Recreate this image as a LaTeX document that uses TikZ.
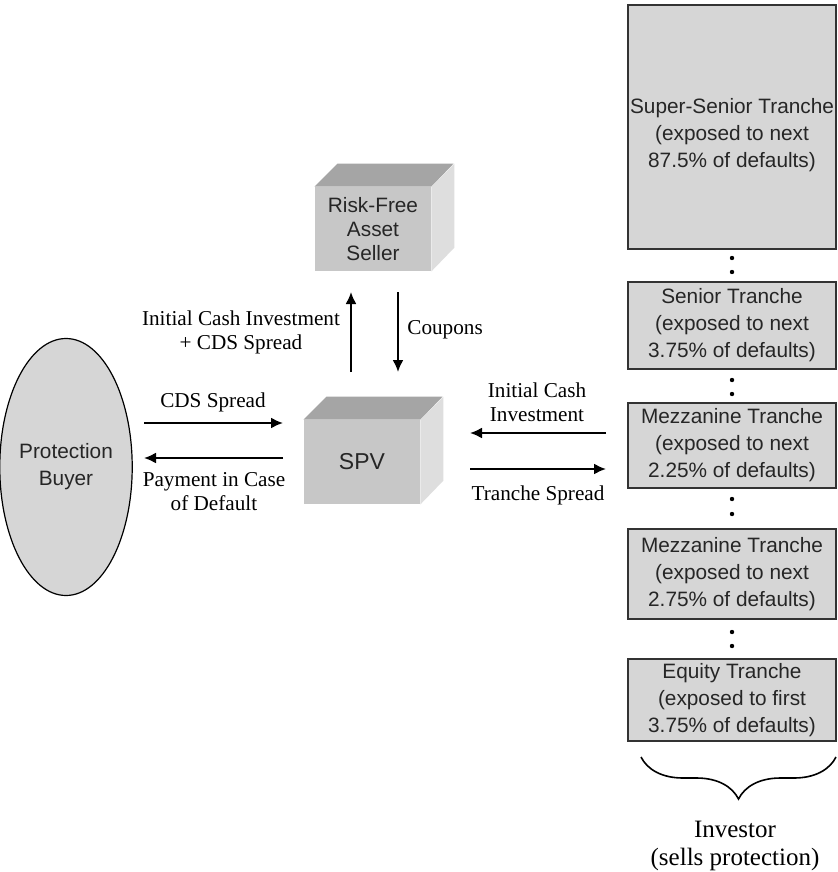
\documentclass[tikz,border=0pt]{standalone}
\usepackage{fontspec}
\setmainfont{Liberation Serif}
\setsansfont{Liberation Sans}
\usetikzlibrary{positioning,shapes,arrows.meta,decorations.pathreplacing}
\definecolor{boxgray}{RGB}{214,214,214}
\definecolor{frontgray}{RGB}{199,199,199}
\definecolor{topgray}{RGB}{165,165,165}
\definecolor{sidegray}{RGB}{222,222,222}

\begin{document}
\begin{tikzpicture}[
		x=0.5pt,y=-0.5pt,
		flow/.style={line width=1pt,-{Latex[length=6pt,width=5.5pt]}},
		tranche/.style={draw=black!80,line width=0.8pt,fill=boxgray,minimum width=104pt,inner sep=0pt,align=center,text=black!85,anchor=north,font=\sffamily\fontsize{10.4}{13.5}\selectfont},
		cube/.style={fill=frontgray,minimum width=58pt,minimum height=42pt,inner sep=0pt,align=center,text=black!85,font=\sffamily\fontsize{10.4}{12}\selectfont},
		lbl/.style={align=center,inner sep=0pt,font=\fontsize{10.6}{12}\selectfont}
		]
		\useasboundingbox (0,0) rectangle (838,872);
		% tranches
		\node[tranche,minimum height=122pt] (ss) at (732,4) {\rule{0pt}{15.5pt}Super-Senior Tranche\\(exposed to next\\87.5\% of defaults)};
		\node[tranche,minimum height=43.5pt] (sen) at (732,281) {Senior Tranche\\(exposed to next\\3.75\% of defaults)};
		\node[tranche,minimum height=42.5pt] (mzone) at (732,402) {Mezzanine Tranche\\(exposed to next\\2.25\% of defaults)};
		\node[tranche,minimum height=45pt] (mztwo) at (732,528) {Mezzanine Tranche\\(exposed to next\\2.75\% of defaults)};
		\node[tranche,minimum height=41pt] (eq) at (732,658) {Equity Tranche\\(exposed to first\\3.75\% of defaults)};
		\foreach \y in {258,272,380,394,499,514,632,646}
			\fill (732,\y) circle (1.1pt);
		\draw[line width=0.8pt,decorate,decoration={brace,mirror,amplitude=21pt}] (641,757) -- (836,757);
		\node[lbl,font=\fontsize{12.5}{14}\selectfont] (inv) at (735,846) {Investor\\(sells protection)};
		% buyer and cubes
		\node[ellipse,draw,line width=0.6pt,fill=boxgray,minimum width=60pt,minimum height=128.5pt,inner sep=0pt,align=center,text=black!85,font=\sffamily\fontsize{10.4}{13.5}\selectfont] (pb) at (66,467) {Protection\\Buyer};
		\node[cube] (rf) at (373,229) {Risk-Free\\Asset\\Seller};
		\node[cube,font=\sffamily\fontsize{11.5}{13}\selectfont] (spv) at (362,462) {SPV};
		\foreach \c in {rf,spv}{
			\fill[topgray] (\c.north west) -- ++(23,-23) -- ++(116,0) -- (\c.north east) -- cycle;
			\fill[sidegray] (\c.north east) -- ++(23,-23) -- ++(0,84) -- (\c.south east) -- cycle;
		}
		% arrows
		\coordinate (upa) at (351,372);
		\coordinate (upb) at (351,292);
		\coordinate (dna) at (398,292);
		\coordinate (dnb) at (398,372);
		\coordinate (cdsa) at (144,423);
		\coordinate (cdsb) at (283,423);
		\coordinate (paya) at (283,458);
		\coordinate (payb) at (144,458);
		\coordinate (icia) at (606,433);
		\coordinate (icib) at (470,433);
		\coordinate (tsa) at (470,469);
		\coordinate (tsb) at (606,469);
		\draw[flow] (upa) -- (upb);
		\draw[flow] (dna) -- (dnb);
		\draw[flow] (cdsa) -- (cdsb);
		\draw[flow] (paya) -- (payb);
		\draw[flow] (icia) -- (icib);
		\draw[flow] (tsa) -- (tsb);
		% labels
		\node[lbl] (cdsl) at (213,402) {CDS Spread};
		\node[lbl] (payl) at (214,492) {Payment in Case\\of Default};
		\node[lbl] (icil) at (241,332) {Initial Cash Investment\\+ CDS Spread};
		\node[lbl,anchor=west] (coul) at (407,330) {Coupons};
		\node[lbl] (icl) at (537,402) {Initial Cash\\Investment};
		\node[lbl] (tsl) at (538,495) {Tranche Spread};
	\end{tikzpicture}
\end{document}
